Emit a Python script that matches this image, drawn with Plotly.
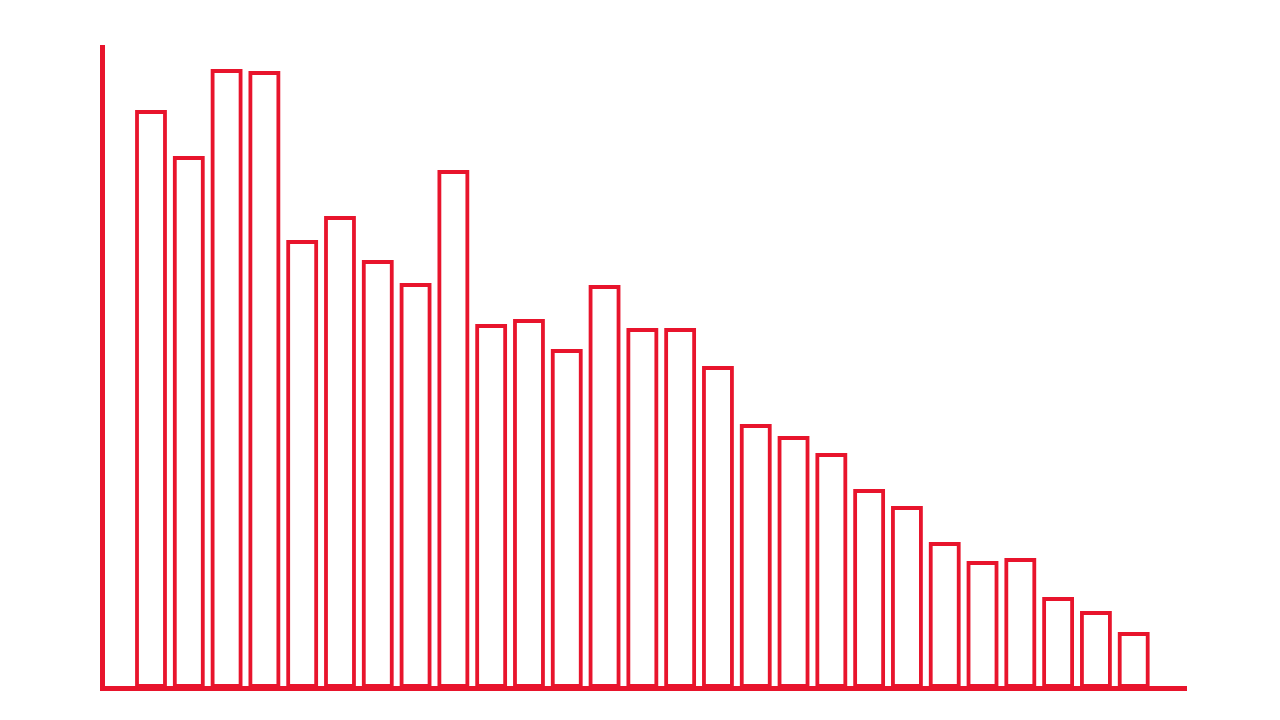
import plotly.graph_objects as go

# bar positions and heights (arbitrary units)
positions = list(range(1, 28))
heights = [574, 528, 615, 613, 444, 468, 424, 401, 514, 360, 365, 335, 399, 356,
           356, 318, 260, 248, 231, 195, 178, 142, 123, 126, 87, 73, 52]

red = "#e8142c"

fig = go.Figure()
fig.add_trace(go.Bar(
    x=positions,
    y=heights,
    marker=dict(color="white", line=dict(color=red, width=3.8)),
    hoverinfo="skip",
))

# page body adds 8px, margins are shifted to make up for it
fig.update_layout(
    width=1280,
    height=720,
    margin=dict(l=97, r=101, t=37, b=42),
    paper_bgcolor="white",
    plot_bgcolor="white",
    bargap=0.26,
    showlegend=False,
)
fig.update_xaxes(range=[-0.217, 28.41], showgrid=False, zeroline=False,
                 showticklabels=False, ticks="",
                 showline=True, linecolor=red, linewidth=5)
fig.update_yaxes(range=[0, 641], showgrid=False, zeroline=False,
                 showticklabels=False, ticks="",
                 showline=True, linecolor=red, linewidth=5)

fig.write_html("out.html")
